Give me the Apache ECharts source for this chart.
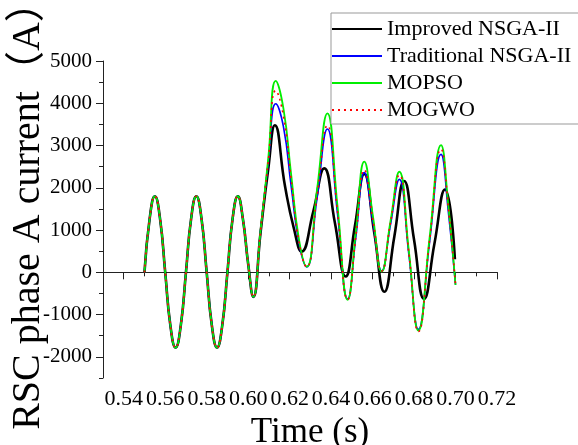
<!DOCTYPE html>
<html>
<head>
<meta charset="utf-8">
<script src="https://cdn.jsdelivr.net/npm/echarts@6/dist/echarts.min.js"></script>
<style>
  html, body { margin: 0; padding: 0; background: #fff; }
  #chart { width: 578px; height: 445px; }
</style>
</head>
<body>
<div id="chart"></div>
<script>
// values (time in s, current in A)
var commonTime = [0.55, 0.5525, 0.555, 0.5575, 0.56, 0.5625, 0.565, 0.5675, 0.57, 0.5725, 0.575, 0.5775,
                  0.58, 0.5825, 0.585, 0.5875, 0.59, 0.5925, 0.595, 0.5975, 0.60, 0.6025];
var commonCurrent = [0, 1270, 1800, 1270, 0, -1260, -1780, -1260, 0, 1270, 1800, 1270,
                     0, -1260, -1780, -1260, 0, 1270, 1800, 1250, 200, -580];

var improvedTime = [0.606, 0.6097, 0.6129, 0.6178, 0.622, 0.6258, 0.6314, 0.6367, 0.6418, 0.647, 0.6515,
                    0.656, 0.6608, 0.6657, 0.6705, 0.6752, 0.68, 0.6848, 0.6898, 0.6949, 0.6997];
var improvedCurrent = [950, 2450, 3480, 2030, 1050, 490, 1440, 2460, 1180, -100, 1100,
                       2330, 940, -460, 850, 2160, 770, -630, 670, 1960, 310];

var otherTime = [0.606, 0.6097, 0.6133, 0.617, 0.6207, 0.6245, 0.6282, 0.6332, 0.6382, 0.6431, 0.648, 0.652,
                 0.656, 0.6602, 0.6644, 0.6686, 0.6729, 0.6775, 0.6821, 0.6875, 0.693, 0.6965, 0.70];
var traditionalCurrent = [1000, 2600, 3990, 3450, 2050, 700, 130, 1750, 3390, 1380, -630, 860,
                          2360, 1190, 30, 1120, 2200, 420, -1350, 720, 2790, 1450, -290];
var mopsoCurrent = [1000, 2700, 4530, 3880, 2330, 780, 135, 1950, 3760, 1560, -650, 990,
                    2620, 1320, 20, 1200, 2380, 500, -1380, 820, 3010, 1600, -300];
var mogwoCurrent = [1000, 2620, 4300, 3700, 2210, 720, 130, 1800, 3470, 1420, -640, 880,
                    2420, 1220, 30, 1160, 2300, 450, -1400, 760, 2910, 1550, -300];

var xLabels = [0.54, 0.56, 0.58, 0.60, 0.62, 0.64, 0.66, 0.68, 0.70, 0.72];
var yLabels = [-2000, -1000, 0, 1000, 2000, 3000, 4000, 5000];

var names = ['Improved NSGA-II', 'Traditional NSGA-II', 'MOPSO', 'MOGWO'];
var yTitle = 'RSC phase A current（A）';

var serif = "'Liberation Serif', 'Times New Roman', 'Noto Sans CJK SC', serif";

function pairs(tail_t, tail_v){
    var t = commonTime.concat(tail_t), v = commonCurrent.concat(tail_v);
    return t.map((x, i) => [x, v[i]]);
}

var chart = echarts.init(document.getElementById('chart'));

var lineSeries = [
    { name: names[0], data: pairs(improvedTime, improvedCurrent), color: '#000000', width: 2.6, type: 'solid' },
    { name: names[1], data: pairs(otherTime, traditionalCurrent), color: '#0000ff', width: 1.6, type: 'solid' },
    { name: names[2], data: pairs(otherTime, mopsoCurrent), color: '#00ee00', width: 1.8, type: 'solid' },
    { name: names[3], data: pairs(otherTime, mogwoCurrent), color: '#ff0000', width: 1.6, type: [2, 4] }
].map(s => ({
    name: s.name,
    type: 'line',
    smooth: 0.5,
    symbol: 'none',
    xAxisIndex: 0,
    yAxisIndex: 0,
    data: s.data,
    itemStyle: { color: s.color },
    lineStyle: { color: s.color, width: s.width, type: s.type }
}));

chart.setOption({
    animation: false,
    backgroundColor: '#fff',
    grid: { left: 103, right: 81, top: 61, bottom: 67, outerBoundsMode: 'none' },
    // rotated y-axis title
    graphic: [{
        type: 'text',
        x: 28,
        y: 206,
        rotation: Math.PI / 2,
        style: {
            text: yTitle,
            font: "40px " + serif,
            fill: '#000',
            align: 'center',
            verticalAlign: 'middle'
        }
    }],
    legend: {
        orient: 'vertical',
        left: 331,
        top: 13,
        padding: [5, 16, 3, 0],
        itemWidth: 50,
        itemHeight: 14,
        itemGap: 5,
        borderColor: '#999',
        borderWidth: 1,
        backgroundColor: '#fff',
        itemStyle: { opacity: 0 },
        textStyle: { fontFamily: serif, fontSize: 22, color: '#000', lineHeight: 22 },
        data: names
    },
    xAxis: [
        {
            type: 'value',
            min: 0.53,
            max: 0.72,
            name: 'Time (s)',
            nameLocation: 'middle',
            nameGap: 32,
            nameTextStyle: { fontFamily: serif, fontSize: 35, color: '#000', padding: [0, 0, 0, 20] },
            axisLine: { show: true, lineStyle: { color: '#222', width: 1 } },
            axisTick: { show: true, length: 7, customValues: xLabels, lineStyle: { color: '#222' } },
            axisLabel: {
                customValues: xLabels,
                margin: 10,
                fontFamily: serif,
                fontSize: 22,
                color: '#000',
                formatter: v => v.toFixed(2)
            },
            splitLine: { show: false }
        },
        {
            // short ticks every 0.01
            type: 'value',
            position: 'bottom',
            min: 0.53,
            max: 0.72,
            interval: 0.01,
            axisLine: { show: false },
            axisTick: { show: true, length: 4, lineStyle: { color: '#222' } },
            axisLabel: { show: false },
            splitLine: { show: false }
        }
    ],
    yAxis: [
        {
            type: 'value',
            min: -2500,
            max: 5000,
            axisLine: { show: true, lineStyle: { color: '#222', width: 1 } },
            axisTick: { show: true, length: 7, customValues: yLabels, lineStyle: { color: '#222' } },
            axisLabel: {
                customValues: yLabels,
                margin: 11,
                fontFamily: serif,
                fontSize: 21,
                color: '#000',
                formatter: v => String(v)
            },
            splitLine: { show: false }
        },
        {
            // short ticks every 500
            type: 'value',
            position: 'left',
            min: -2500,
            max: 5000,
            interval: 500,
            axisLine: { show: false },
            axisTick: { show: true, length: 4, lineStyle: { color: '#222' } },
            axisLabel: { show: false },
            splitLine: { show: false }
        }
    ],
    series: lineSeries
});
</script>
</body>
</html>
